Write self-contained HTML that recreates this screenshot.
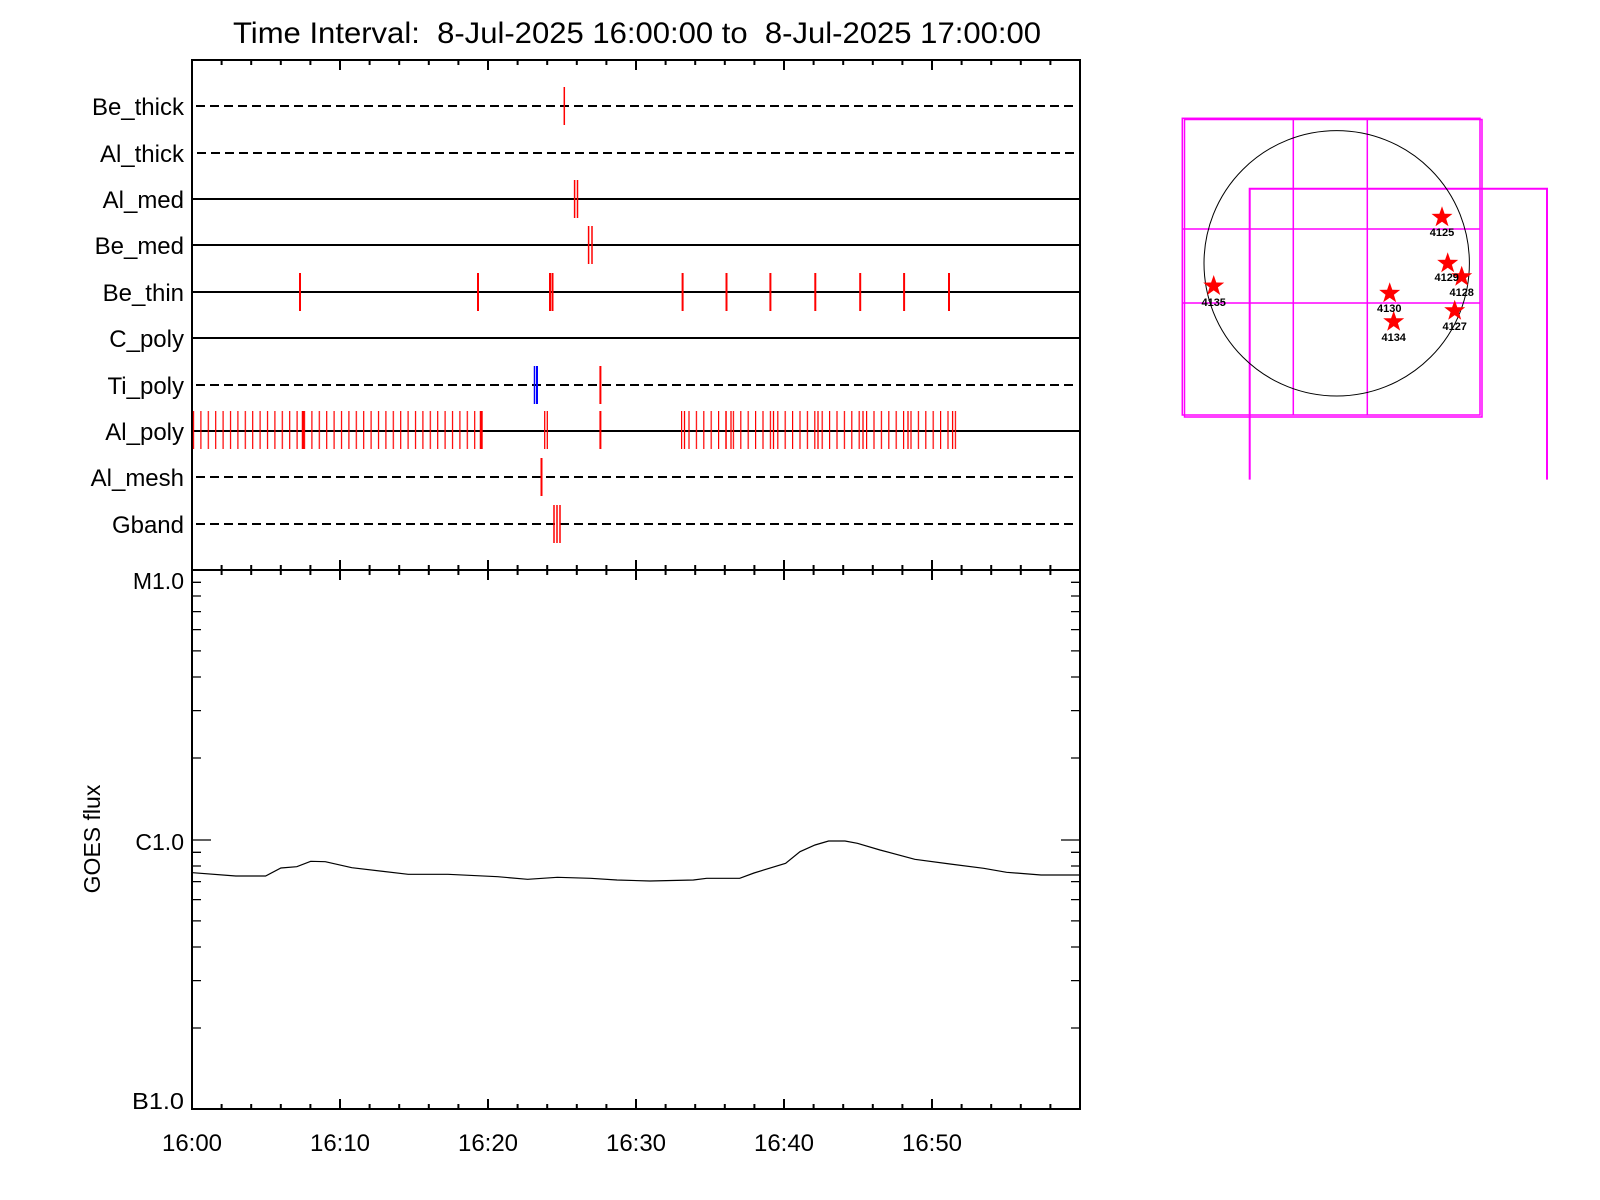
<!DOCTYPE html>
<html><head><meta charset="utf-8"><style>
html,body{margin:0;padding:0;background:#fff;}
svg{display:block;}
text{font-family:"Liberation Sans",sans-serif;fill:#000;}
</style></head><body>
<svg width="1600" height="1200" viewBox="0 0 1600 1200" xmlns="http://www.w3.org/2000/svg">
<defs>
<pattern id="p1" patternUnits="userSpaceOnUse" x="192.9" y="0" width="7.4" height="10"><rect x="0" y="0" width="1.2" height="10" fill="#f00"/></pattern>
<pattern id="p2" patternUnits="userSpaceOnUse" x="681" y="0" width="7.4" height="10"><rect x="0" y="0" width="1.2" height="10" fill="#f00"/></pattern>
</defs>
<text x="233" y="43" font-size="30" textLength="808" lengthAdjust="spacingAndGlyphs" style="white-space:pre" xml:space="preserve">Time Interval:  8-Jul-2025 16:00:00 to  8-Jul-2025 17:00:00</text>

<rect x="192" y="60" width="888" height="1049" fill="none" stroke="#000" stroke-width="2"/>
<line x1="192" y1="570" x2="1080" y2="570" stroke="#000" stroke-width="2"/>

<g font-size="24" text-anchor="end">
<text x="184" y="115">Be_thick</text>
<text x="184" y="162">Al_thick</text>
<text x="184" y="208">Al_med</text>
<text x="184" y="254">Be_med</text>
<text x="184" y="301">Be_thin</text>
<text x="184" y="347">C_poly</text>
<text x="184" y="394">Ti_poly</text>
<text x="184" y="440">Al_poly</text>
<text x="184" y="486">Al_mesh</text>
<text x="184" y="533">Gband</text>
</g>
<g stroke="#000" stroke-width="2">
<line x1="196" y1="106" x2="1078" y2="106" stroke-dasharray="9,5"/>
<line x1="197" y1="153" x2="1078" y2="153" stroke-dasharray="9,5"/>
<line x1="192" y1="199" x2="1080" y2="199"/>
<line x1="192" y1="245" x2="1080" y2="245"/>
<line x1="192" y1="292" x2="1080" y2="292"/>
<line x1="192" y1="338" x2="1080" y2="338"/>
<line x1="196" y1="385" x2="1078" y2="385" stroke-dasharray="9,5"/>
<line x1="192" y1="431" x2="1080" y2="431"/>
<line x1="196" y1="477" x2="1078" y2="477" stroke-dasharray="9,5"/>
<line x1="196" y1="524" x2="1078" y2="524" stroke-dasharray="9,5"/>
</g>
<g stroke="#f00" stroke-width="1.5">
<line x1="564.3" y1="87" x2="564.3" y2="125"/>
<line x1="574.6" y1="180" x2="574.6" y2="218"/><line x1="577.5" y1="180" x2="577.5" y2="218"/>
<line x1="588.6" y1="226" x2="588.6" y2="264"/><line x1="592" y1="226" x2="592" y2="264"/>
<g stroke-width="2">
<line x1="300" y1="273" x2="300" y2="311"/><line x1="478" y1="273" x2="478" y2="311"/>
<line x1="550" y1="273" x2="550" y2="311"/><line x1="552.5" y1="273" x2="552.5" y2="311"/>
<line x1="682.6" y1="273" x2="682.6" y2="311"/><line x1="726.5" y1="273" x2="726.5" y2="311"/>
<line x1="770.4" y1="273" x2="770.4" y2="311"/><line x1="815.3" y1="273" x2="815.3" y2="311"/>
<line x1="860.2" y1="273" x2="860.2" y2="311"/><line x1="904.1" y1="273" x2="904.1" y2="311"/>
<line x1="949" y1="273" x2="949" y2="311"/>
<line x1="600.4" y1="366" x2="600.4" y2="404"/>
<line x1="541.5" y1="458" x2="541.5" y2="496"/>
</g>
<line x1="554" y1="505" x2="554" y2="543"/><line x1="557" y1="505" x2="557" y2="543"/><line x1="560" y1="505" x2="560" y2="543"/>
</g>
<line x1="534.5" y1="366" x2="534.5" y2="404" stroke="#00f" stroke-width="1.5"/>
<line x1="537" y1="366" x2="537" y2="404" stroke="#00f" stroke-width="2"/>
<rect x="192.5" y="411" width="291" height="38" fill="url(#p1)"/>
<rect x="680.5" y="411" width="276" height="38" fill="url(#p2)"/>
<g stroke="#f00" stroke-width="1.3">
<line x1="303" y1="411" x2="303" y2="449" stroke-width="2.5"/>
<line x1="481" y1="411" x2="481" y2="449" stroke-width="2.5"/>
<line x1="544.7" y1="411" x2="544.7" y2="449"/><line x1="547.3" y1="411" x2="547.3" y2="449"/>
<line x1="600.4" y1="411" x2="600.4" y2="449" stroke-width="2"/>
<line x1="684.5" y1="411" x2="684.5" y2="449"/><line x1="726" y1="411" x2="726" y2="449"/>
<line x1="731" y1="411" x2="731" y2="449"/><line x1="773.5" y1="411" x2="773.5" y2="449"/>
<line x1="818" y1="411" x2="818" y2="449"/><line x1="863" y1="411" x2="863" y2="449"/>
<line x1="908" y1="411" x2="908" y2="449"/><line x1="952.6" y1="411" x2="952.6" y2="449"/>
</g>

<g stroke="#000" stroke-width="2">
<path d="M192,60v10 M340,60v10 M488,60v10 M636,60v10 M784,60v10 M932,60v10
M221.6,60v5 M251.2,60v5 M280.8,60v5 M310.4,60v5 M369.6,60v5 M399.2,60v5 M428.8,60v5 M458.4,60v5 M517.6,60v5 M547.2,60v5 M576.8,60v5 M606.4,60v5 M665.6,60v5 M695.2,60v5 M724.8,60v5 M754.4,60v5 M813.6,60v5 M843.2,60v5 M872.8,60v5 M902.4,60v5 M961.6,60v5 M991.2,60v5 M1020.8,60v5 M1050.4,60v5"/>
<path d="M192,560v20 M340,560v20 M488,560v20 M636,560v20 M784,560v20 M932,560v20
M221.6,565v10 M251.2,565v10 M280.8,565v10 M310.4,565v10 M369.6,565v10 M399.2,565v10 M428.8,565v10 M458.4,565v10 M517.6,565v10 M547.2,565v10 M576.8,565v10 M606.4,565v10 M665.6,565v10 M695.2,565v10 M724.8,565v10 M754.4,565v10 M813.6,565v10 M843.2,565v10 M872.8,565v10 M902.4,565v10 M961.6,565v10 M991.2,565v10 M1020.8,565v10 M1050.4,565v10"/>
<path d="M192,1109v-10 M340,1109v-10 M488,1109v-10 M636,1109v-10 M784,1109v-10 M932,1109v-10
M221.6,1109v-5 M251.2,1109v-5 M280.8,1109v-5 M310.4,1109v-5 M369.6,1109v-5 M399.2,1109v-5 M428.8,1109v-5 M458.4,1109v-5 M517.6,1109v-5 M547.2,1109v-5 M576.8,1109v-5 M606.4,1109v-5 M665.6,1109v-5 M695.2,1109v-5 M724.8,1109v-5 M754.4,1109v-5 M813.6,1109v-5 M843.2,1109v-5 M872.8,1109v-5 M902.4,1109v-5 M961.6,1109v-5 M991.2,1109v-5 M1020.8,1109v-5 M1050.4,1109v-5"/>
</g>
<g stroke="#000" stroke-width="1.3">
<path d="M192,840h19 M1080,840h-19
M192,582.3h9 M192,596h9 M192,611.6h9 M192,629.6h9 M192,650.9h9 M192,677h9 M192,710.6h9 M192,758h9
M1080,582.3h-9 M1080,596h-9 M1080,611.6h-9 M1080,629.6h-9 M1080,650.9h-9 M1080,677h-9 M1080,710.6h-9 M1080,758h-9
M192,852.3h9 M192,866h9 M192,881.6h9 M192,899.6h9 M192,920.9h9 M192,947h9 M192,980.6h9 M192,1028h9
M1080,852.3h-9 M1080,866h-9 M1080,881.6h-9 M1080,899.6h-9 M1080,920.9h-9 M1080,947h-9 M1080,980.6h-9 M1080,1028h-9"/>
</g>
<g font-size="23" text-anchor="end">
<text x="184" y="589">M1.0</text>
<text x="184" y="850">C1.0</text>
<text x="184" y="1109" textLength="52" lengthAdjust="spacingAndGlyphs">B1.0</text>
</g>
<text transform="translate(100,839) rotate(-90)" font-size="23" text-anchor="middle">GOES flux</text>
<g font-size="24" text-anchor="middle">
<text x="192" y="1151">16:00</text><text x="340" y="1151">16:10</text><text x="488" y="1151">16:20</text>
<text x="636" y="1151">16:30</text><text x="784" y="1151">16:40</text><text x="932" y="1151">16:50</text>
</g>
<polyline fill="none" stroke="#000" stroke-width="1.2" points="192.6,872.7 235.8,876 265.6,876 280.9,868 296.8,866.7 310.7,861.3 325.3,861.7 351.8,867.7 408.2,874.3 448,874.3 497.7,876.7 527.6,879.3 557.4,877.3 590.6,878.3 617,880 650,881 693.4,880 706.7,878.3 739.7,878.3 754,873 785.6,863.3 800,851.7 815,845 828.6,841 845,841 857.4,843.3 880,850 914.8,859.3 950,864 983.7,868.3 1006.6,872.3 1041,875 1079,875"/>

<g fill="none" stroke="#f0f" stroke-width="1.5">
<rect x="1182.3" y="118.3" width="297.7" height="296.7"/>
<rect x="1184.5" y="119.5" width="297.5" height="297.5"/>
<line x1="1293.3" y1="118" x2="1293.3" y2="415"/>
<line x1="1367.3" y1="118" x2="1367.3" y2="415"/>
<line x1="1182" y1="229" x2="1480" y2="229"/>
<line x1="1182" y1="303" x2="1480" y2="303"/>
<path d="M1249.7,479.6 V188.7 H1547 V479.6" stroke-width="2"/>
</g>
<circle cx="1336.7" cy="263.3" r="132.7" fill="none" stroke="#000" stroke-width="1"/>
<g fill="#f00">
<polygon points="0,-11 2.6,-3.5 10.5,-3.4 4.2,1.4 6.5,9 0,4.4 -6.5,9 -4.2,1.4 -10.5,-3.4 -2.6,-3.5" transform="translate(1442,217.3)"/>
<polygon points="0,-11 2.6,-3.5 10.5,-3.4 4.2,1.4 6.5,9 0,4.4 -6.5,9 -4.2,1.4 -10.5,-3.4 -2.6,-3.5" transform="translate(1447.7,263.3)"/>
<polygon points="0,-11 2.6,-3.5 10.5,-3.4 4.2,1.4 6.5,9 0,4.4 -6.5,9 -4.2,1.4 -10.5,-3.4 -2.6,-3.5" transform="translate(1461.7,276.7)"/>
<polygon points="0,-11 2.6,-3.5 10.5,-3.4 4.2,1.4 6.5,9 0,4.4 -6.5,9 -4.2,1.4 -10.5,-3.4 -2.6,-3.5" transform="translate(1389.7,293.3)"/>
<polygon points="0,-11 2.6,-3.5 10.5,-3.4 4.2,1.4 6.5,9 0,4.4 -6.5,9 -4.2,1.4 -10.5,-3.4 -2.6,-3.5" transform="translate(1393.7,321.7)"/>
<polygon points="0,-11 2.6,-3.5 10.5,-3.4 4.2,1.4 6.5,9 0,4.4 -6.5,9 -4.2,1.4 -10.5,-3.4 -2.6,-3.5" transform="translate(1454.7,310.7)"/>
<polygon points="0,-11 2.6,-3.5 10.5,-3.4 4.2,1.4 6.5,9 0,4.4 -6.5,9 -4.2,1.4 -10.5,-3.4 -2.6,-3.5" transform="translate(1213.7,286)"/>
</g>
<g font-size="11" font-weight="bold" text-anchor="middle">
<text x="1442" y="236">4125</text>
<text x="1446.7" y="281">4129</text>
<text x="1461.7" y="296">4128</text>
<text x="1389.3" y="312">4130</text>
<text x="1393.7" y="341">4134</text>
<text x="1454.7" y="330">4127</text>
<text x="1213.7" y="306">4135</text>
</g>
</svg>
</body></html>
